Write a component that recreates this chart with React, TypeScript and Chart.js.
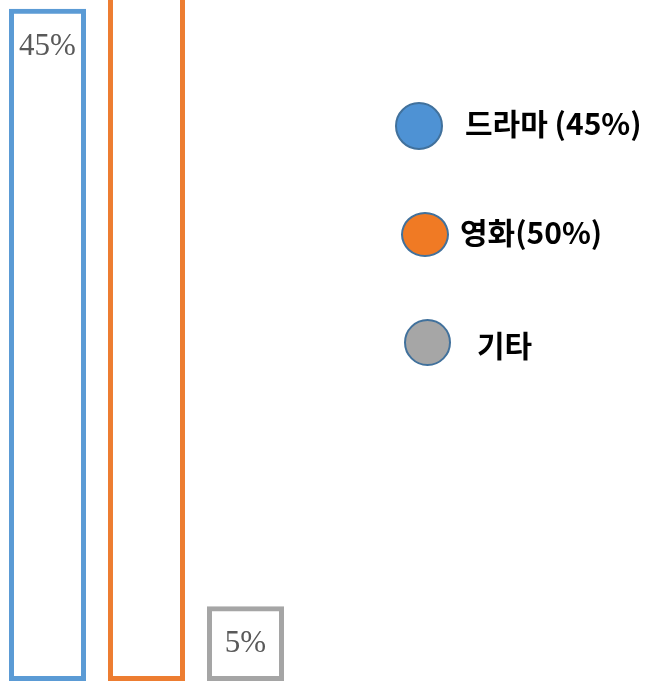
import React, { useEffect, useRef } from "react";
import { Chart, registerables } from "chart.js";

Chart.register(...registerables);

const categories = ["드라마", "영화", "기타"];
const values = [45, 50, 5];
const valueLabels = ["45%", "50%", "5%"];
const legendLabels = ["드라마 (45%)", "영화(50%)", "기타"];
const barColors = ["#5B9BD5", "#ED7D31", "#A5A5A5"];
const legendFills = ["#4E92D4", "#F07A24", "#A6A6A6"];

// Legend placement (styling only, not data)
const legendLayout = [
  { cx: 419, cy: 126, w: 48, h: 48, tx: 465, ty: 122 },
  { cx: 424.5, cy: 234, w: 48, h: 45, tx: 460, ty: 231 },
  { cx: 427, cy: 342.5, w: 47, h: 47, tx: 477, ty: 344 },
];

const labelPlugin = {
  id: "valueLabels",
  afterDatasetsDraw(chart: any) {
    const ctx = chart.ctx;
    const meta = chart.getDatasetMeta(0);
    ctx.save();
    ctx.font = "31px 'Liberation Serif', 'Times New Roman', serif";
    ctx.fillStyle = "#595959";
    ctx.textAlign = "center";
    ctx.textBaseline = "middle";
    meta.data.forEach((bar: any, i: number) => {
      ctx.fillText(valueLabels[i], bar.x, bar.y + 38);
    });
    ctx.restore();
  },
};

export default function App() {
  const ref = useRef<HTMLCanvasElement | null>(null);

  useEffect(() => {
    if (!ref.current) return;
    const chart = new Chart(ref.current, {
      type: "bar",
      data: {
        labels: categories,
        datasets: [
          {
            data: values,
            backgroundColor: "rgba(0,0,0,0)",
            borderColor: barColors,
            borderWidth: 5,
            borderSkipped: false,
            barPercentage: 0.778,
            categoryPercentage: 1,
          } as any,
        ],
      },
      options: {
        responsive: false,
        animation: false,
        devicePixelRatio: 1,
        layout: { padding: { left: 0, top: 0, right: 359, bottom: 4 } },
        plugins: { legend: { display: false }, tooltip: { enabled: false } },
        scales: {
          x: { display: false },
          y: { display: false, min: 0, max: 45.58 },
        },
      },
      plugins: [labelPlugin],
    });
    return () => chart.destroy();
  }, []);

  return (
    <div style={{ position: "absolute", left: 0, top: 0, width: 654, height: 685, overflow: "hidden", background: "#fff" }}>
      <canvas ref={ref} width={656} height={685} style={{ position: "absolute", left: -2, top: 0 }} />
      {legendLabels.map((label, i) => {
        const l = legendLayout[i];
        return (
          <React.Fragment key={label}>
            <div
              style={{
                position: "absolute",
                left: l.cx - l.w / 2,
                top: l.cy - l.h / 2,
                width: l.w,
                height: l.h,
                boxSizing: "border-box",
                borderRadius: "50%",
                background: legendFills[i],
                border: "2.5px solid #41719C",
              }}
            />
            <div
              style={{
                position: "absolute",
                left: l.tx,
                top: l.ty,
                transform: "translateY(-50%)",
                lineHeight: 1,
                fontFamily: "'Noto Sans CJK KR', sans-serif",
                fontWeight: 700,
                fontSize: 30,
                color: "#000",
                whiteSpace: "nowrap",
              }}
            >
              {label}
            </div>
          </React.Fragment>
        );
      })}
    </div>
  );
}
